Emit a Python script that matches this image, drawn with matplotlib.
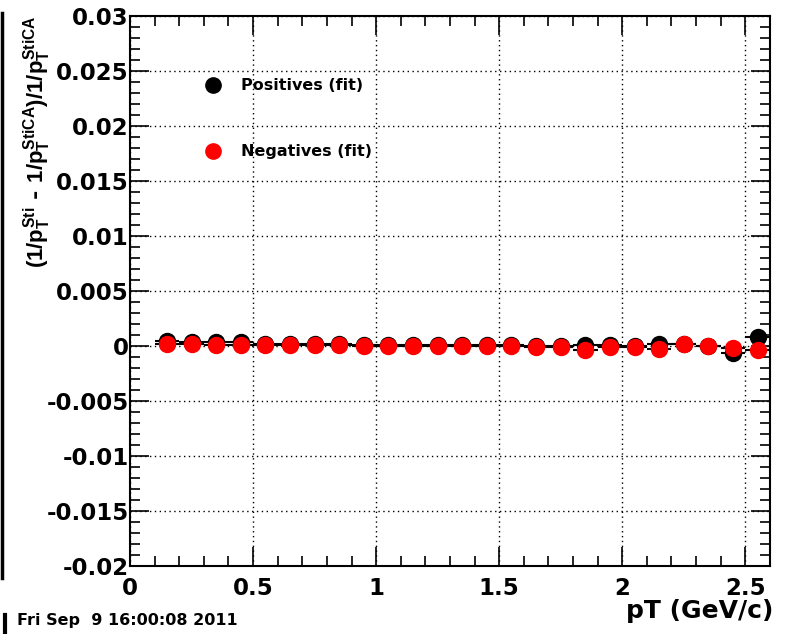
import matplotlib
matplotlib.use("Agg")
import matplotlib.pyplot as plt
from matplotlib.lines import Line2D
from matplotlib.ticker import MultipleLocator, FuncFormatter

plt.rcParams["font.family"] = ["DejaVu Sans"]
plt.rcParams["font.weight"] = "bold"
plt.rcParams["mathtext.fontset"] = "custom"
plt.rcParams["mathtext.rm"] = "Liberation Sans:bold"
plt.rcParams["mathtext.it"] = "Liberation Sans:bold"
plt.rcParams["mathtext.bf"] = "Liberation Sans:bold"

# pT bin centres and fit results
pt = [0.15, 0.25, 0.35, 0.45, 0.55, 0.65, 0.75, 0.85, 0.95, 1.05, 1.15, 1.25, 1.35,
      1.45, 1.55, 1.65, 1.75, 1.85, 1.95, 2.05, 2.15, 2.25, 2.35, 2.45, 2.55]
pos = [0.0005, 0.0004, 0.0004, 0.0004, 0.0002, 0.0002, 0.0002, 0.0002, 0.0001, 0.0001,
       0.0001, 0.0001, 0.0001, 0.0001, 0.0001, 0.0000, 0.0000, 0.0001, 0.0001, 0.0000,
       0.0002, 0.0002, 0.0000, -0.0006, 0.0008]
pos_err = [0.0001] * 23 + [0.0002, 0.0002]
neg = [0.0002, 0.0002, 0.0001, 0.0001, 0.0001, 0.0001, 0.0001, 0.0001, 0.0000, 0.0000,
       0.0000, 0.0000, 0.0000, 0.0000, 0.0000, -0.0001, -0.0001, -0.0004, -0.0001, -0.0001,
       -0.0003, 0.0002, 0.0000, -0.0002, -0.0004]
neg_err = [0.0001] * 25
bin_half = 0.05

fig = plt.figure(figsize=(7.88, 6.34), dpi=100)
ax = fig.add_axes([0.165, 0.107, 0.812, 0.868])

ax.errorbar(pt, pos, yerr=pos_err, xerr=bin_half, fmt="o", color="black",
            ms=11.5, elinewidth=1.5, capsize=0, zorder=3)
ax.errorbar(pt, neg, yerr=neg_err, xerr=bin_half, fmt="o", color="red", ecolor="black",
            mfc="red", mec="red", ms=11.5, elinewidth=1.5, capsize=0, zorder=4)

ax.set_xlim(0, 2.6)
ax.set_ylim(-0.02, 0.03)
ax.xaxis.set_major_locator(MultipleLocator(0.5))
ax.xaxis.set_minor_locator(MultipleLocator(0.1))
ax.yaxis.set_major_locator(MultipleLocator(0.005))
ax.yaxis.set_minor_locator(MultipleLocator(0.001))
ax.yaxis.set_major_formatter(FuncFormatter(lambda v, p: "0" if abs(v) < 1e-9 else f"{v:g}"))
ax.xaxis.set_major_formatter(FuncFormatter(lambda v, p: f"{v:g}"))
ax.tick_params(which="both", direction="in", top=True, right=True, labelsize=16.5, width=1.2)
ax.tick_params(which="major", length=14)
ax.tick_params(which="minor", length=7)
ax.tick_params(axis="x", pad=8)
ax.tick_params(axis="y", pad=1)
for s in ax.spines.values():
    s.set_linewidth(1.5)
ax.grid(True, which="major", linestyle=(0, (1, 2.5)), color="black", linewidth=1.0)

handles = [
    Line2D([], [], marker="o", ls="none", color="black", ms=11),
    Line2D([], [], marker="o", ls="none", color="red", ms=11),
]
ax.legend(handles, ["Positives (fit)", "Negatives (fit)"], loc="upper left",
          bbox_to_anchor=(0.088, 0.913), frameon=False, fontsize=11.5, labelspacing=3.2,
          handletextpad=1.0, handlelength=1.5)

fig.text(0.981, 0.018, "pT (GeV/c)", ha="right", va="bottom", fontsize=18)
fig.text(0.047, 0.975,
         r"$(1/p_{\mathrm{T}}^{\mathrm{Sti}}$ - $1/p_{\mathrm{T}}^{\mathrm{StiCA}})/1/p_{\mathrm{T}}^{\mathrm{StiCA}}$",
         rotation=90, ha="center", va="top", fontsize=16)
fig.text(0.022, 0.01, "Fri Sep  9 16:00:08 2011", fontsize=11.5, ha="left", va="bottom")

fig.add_artist(Line2D([0.003, 0.003], [1 - 13 / 634, 1 - 578 / 634], color="black", lw=2.5,
                      transform=fig.transFigure))
fig.add_artist(Line2D([0.006, 0.006], [0.0, 0.03], color="black", lw=3,
                      transform=fig.transFigure))

fig.savefig("out.png", dpi=100)
